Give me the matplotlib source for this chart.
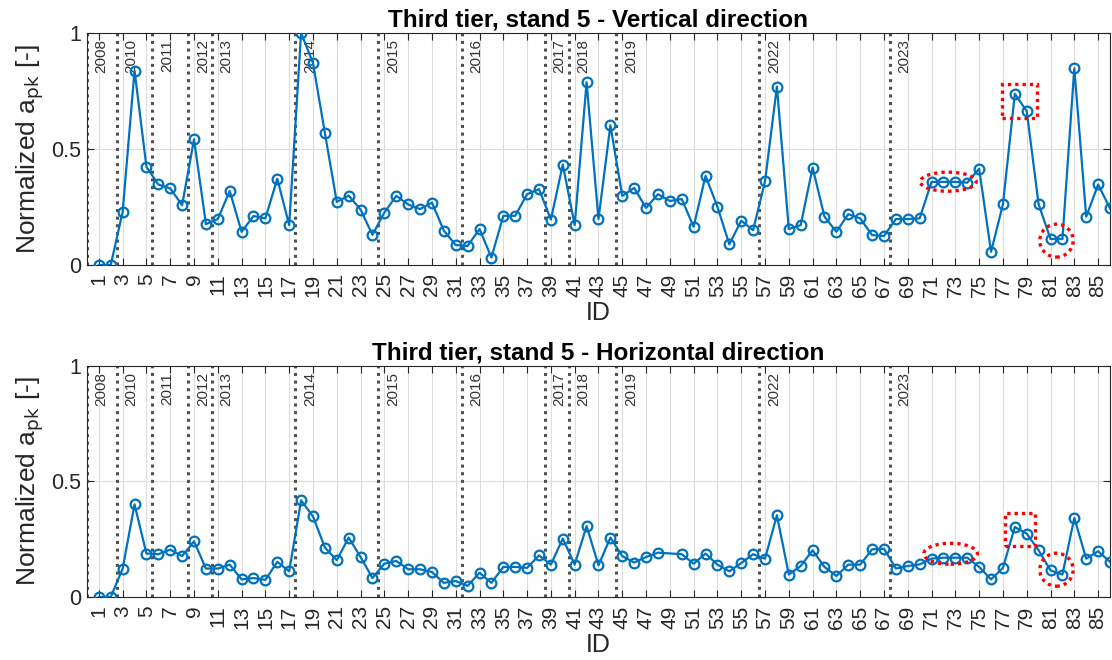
import numpy as np
import matplotlib
matplotlib.use('Agg')
import matplotlib.pyplot as plt
from matplotlib.patches import Ellipse, Rectangle

plt.rcParams['font.family'] = ['Liberation Sans', 'DejaVu Sans']

# data
ids_vert = list(range(1, 87))
vert = [0.0, 0.0, 0.229, 0.838, 0.423, 0.347, 0.330, 0.258, 0.542, 0.176,
        0.198, 0.319, 0.143, 0.211, 0.201, 0.372, 0.172, 1.0, 0.871, 0.569,
        0.272, 0.299, 0.239, 0.130, 0.226, 0.298, 0.261, 0.241, 0.269, 0.148,
        0.086, 0.082, 0.155, 0.032, 0.212, 0.212, 0.305, 0.327, 0.196, 0.433,
        0.172, 0.788, 0.198, 0.602, 0.298, 0.332, 0.246, 0.305, 0.276, 0.284,
        0.165, 0.384, 0.251, 0.089, 0.191, 0.150, 0.361, 0.769, 0.155, 0.172,
        0.420, 0.208, 0.143, 0.219, 0.201, 0.129, 0.125, 0.198, 0.198, 0.201,
        0.358, 0.358, 0.358, 0.355, 0.415, 0.057, 0.261, 0.738, 0.663, 0.262,
        0.112, 0.112, 0.848, 0.208, 0.347, 0.244]

# ID 49 has no horizontal value
ids_horz = [i for i in range(1, 87) if i != 49]
horz = [0.0, 0.0, 0.123, 0.401, 0.188, 0.185, 0.205, 0.177, 0.241, 0.123,
        0.123, 0.140, 0.076, 0.082, 0.074, 0.152, 0.111, 0.418, 0.349, 0.214,
        0.159, 0.257, 0.173, 0.082, 0.144, 0.156, 0.120, 0.120, 0.108, 0.061,
        0.069, 0.048, 0.105, 0.061, 0.130, 0.130, 0.126, 0.180, 0.140, 0.253,
        0.140, 0.307, 0.137, 0.257, 0.177, 0.149, 0.173, 0.192, 0.185,
        0.144, 0.188, 0.140, 0.111, 0.147, 0.185, 0.166, 0.354, 0.097, 0.134,
        0.202, 0.130, 0.091, 0.140, 0.140, 0.206, 0.209, 0.123, 0.134, 0.141,
        0.166, 0.170, 0.170, 0.170, 0.130, 0.076, 0.126, 0.303, 0.274, 0.202,
        0.115, 0.097, 0.342, 0.166, 0.198, 0.152]

year_pos = [0, 2.5, 5.5, 8.5, 10.5, 17.5, 24.5, 31.5, 38.5, 40.5, 44.5, 56.5, 67.5]
year_lbl = ['2008', '2010', '2011', '2012', '2013', '2014', '2015', '2016',
            '2017', '2018', '2019', '2022', '2023']

titles = ['Third tier, stand 5 - Vertical direction',
          'Third tier, stand 5 - Horizontal direction']

# red marks: (x center, y center, width, height) in data units
marks_vert = {'ellipse': (72.4, 0.359, 4.7, 0.082),
              'rect': (76.9, 0.632, 3.0, 0.150),
              'circle': (81.5, 0.105, 2.8, 0.142)}
marks_horz = {'ellipse': (72.6, 0.187, 4.5, 0.091),
              'rect': (77.2, 0.219, 2.5, 0.143),
              'circle': (81.5, 0.118, 2.8, 0.143)}

blue = '#0072BD'
dark = '#262626'

fig = plt.figure(figsize=(11.12, 6.6), dpi=100)
ax1 = fig.add_axes([0.0782, 0.5985, 0.920, 0.3515])
ax2 = fig.add_axes([0.0782, 0.0955, 0.920, 0.350])

panels = [(ax1, ids_vert, vert, titles[0], marks_vert),
          (ax2, ids_horz, horz, titles[1], marks_horz)]

for ax, x, y, title, marks in panels:
    ax.set_xlim(0, 86)
    ax.set_ylim(0, 1)
    ax.set_xticks(np.arange(1, 87, 2))
    ax.set_yticks([0, 0.5, 1])
    ax.set_yticklabels(['0', '0.5', '1'])
    ax.grid(True, color='#dcdcdc', linewidth=0.8)
    ax.set_axisbelow(True)
    ax.tick_params(axis='x', labelrotation=90, labelsize=15, colors=dark,
                   direction='in', top=True, length=5, pad=6)
    ax.tick_params(axis='y', labelsize=15.5, colors=dark, direction='in',
                   right=True, length=5, pad=4)
    for sp in ax.spines.values():
        sp.set_color(dark)
        sp.set_linewidth(0.8)

    for xp, lbl in zip(year_pos, year_lbl):
        ax.axvline(xp, color='#505050', linestyle=(0, (1, 1.5)), linewidth=2.2, zorder=2)
        ax.text(xp + 0.65, 0.975, lbl, rotation=90, ha='left', va='top',
                fontsize=11, color='#333333', zorder=3)

    ax.plot(x, y, color=blue, linewidth=1.6, marker='o', markersize=7,
            markerfacecolor='none', markeredgewidth=1.6, zorder=4)

    ex, ey, ew, eh = marks['ellipse']
    ax.add_patch(Ellipse((ex, ey), ew, eh, fill=False, edgecolor='red',
                         linestyle=(0, (1, 1.2)), linewidth=2.4, zorder=5))
    rx, ry, rw, rh = marks['rect']
    ax.add_patch(Rectangle((rx, ry), rw, rh, fill=False, edgecolor='red',
                           linestyle=(0, (1, 1.2)), linewidth=2.4, zorder=5))
    cx, cy, cw, ch = marks['circle']
    ax.add_patch(Ellipse((cx, cy), cw, ch, fill=False, edgecolor='red',
                         linestyle=(0, (1, 1.2)), linewidth=2.4, zorder=5))

    ax.set_title(title, fontsize=17.5, fontweight='bold', color='black', pad=5)
    ax.set_xlabel('ID', fontsize=18, color=dark, labelpad=3)
    ax.set_ylabel('Normalized a$_{\\mathrm{pk}}$ [-]', fontsize=19, color=dark, labelpad=4)

fig.savefig('out.png', dpi=100)
